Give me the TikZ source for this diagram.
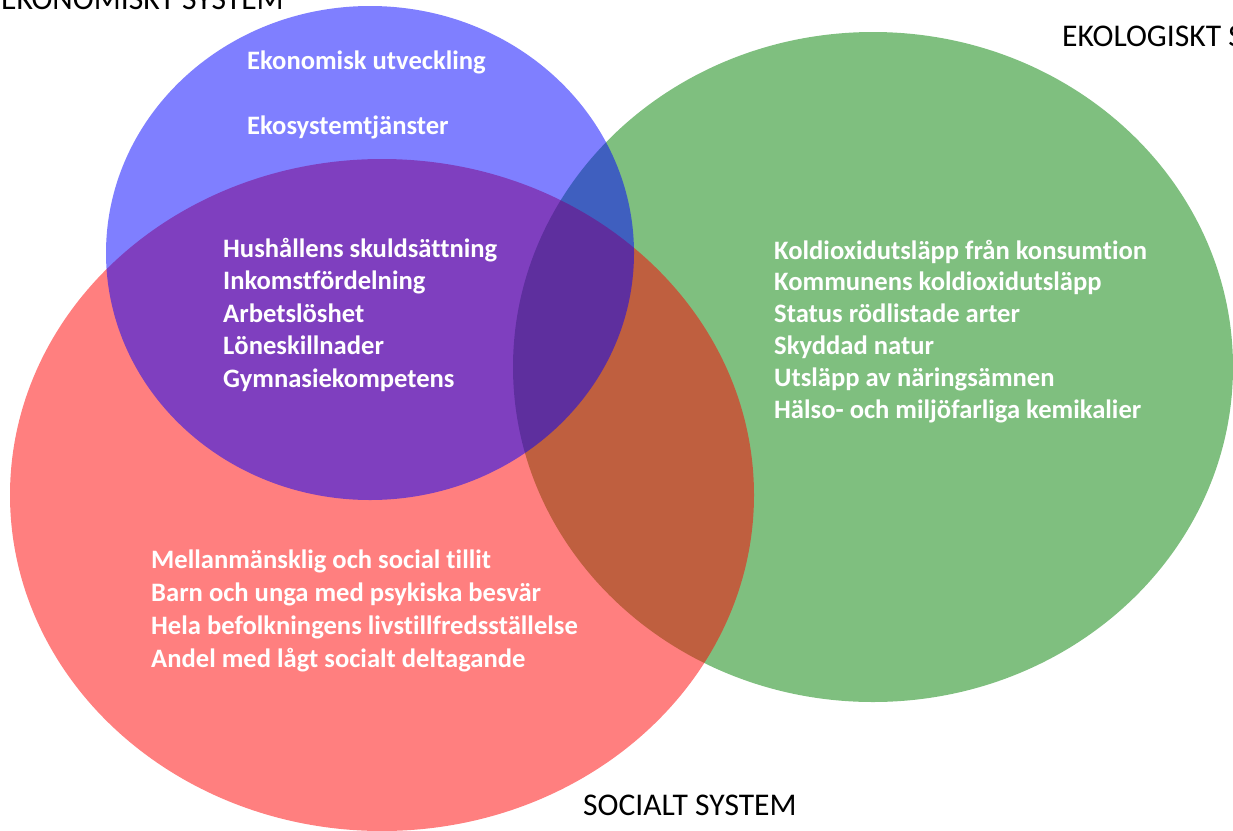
\documentclass[tikz,border=0pt]{standalone}
\usepackage{fontspec}
\setmainfont[Ligatures=NoCommon]{Carlito}
\definecolor{ekoblue}{RGB}{0,0,255}
\definecolor{sored}{RGB}{255,0,0}
\definecolor{ekogreen}{RGB}{0,128,0}
\tikzset{
  setfill/.style={fill=#1, fill opacity=0.5, draw=none},
  item/.style={anchor=base west, inner sep=0pt, text=white, font=\fontsize{26.6}{30}\selectfont\bfseries},
  syslabel/.style={anchor=base west, inner sep=0pt, text=black, font=\fontsize{31.6}{36}\selectfont}
}
\begin{document}
\begin{tikzpicture}[x=1pt,y=-1pt]
\useasboundingbox (0,0) rectangle (1233,830);
\clip (0,0) rectangle (1233,830);
% sets
\path[setfill=ekogreen] (873,367) ellipse [x radius=360, y radius=335];
\path[setfill=sored] (382,495) ellipse [x radius=372, y radius=336];
\path[setfill=ekoblue] (370,253) ellipse [x radius=264, y radius=247];
% labels
\node[syslabel] (lekon) at (1,9) {EKONOMISKT SYSTEM};
\node[syslabel] (lekol) at (1062,46) {EKOLOGISKT SYSTEM};
\node[syslabel] (lsoc) at (583,815) {SOCIALT SYSTEM};
% economic only
\node[item] (b1) at (247,69) {Ekonomisk utveckling};
\node[item] (b2) at (247,134) {Ekosystemtjänster};
% economic & social
\foreach \t [count=\i] in {Hushållens skuldsättning, Inkomstfördelning, Arbetslöshet, Löneskillnader, Gymnasiekompetens}
  \node[item] (p\i) at (223,{257+32.5*(\i-1)}) {\t};
% ecological
\foreach \t [count=\i] in {Koldioxidutsläpp från konsumtion, Kommunens koldioxidutsläpp, Status rödlistade arter, Skyddad natur, Utsläpp av näringsämnen, Hälso- och miljöfarliga kemikalier}
  \node[item] (g\i) at (774,{259+31.8*(\i-1)}) {\t};
% social
\foreach \t [count=\i] in {Mellanmänsklig och social tillit, Barn och unga med psykiska besvär, Hela befolkningens livstillfredsställelse, Andel med lågt socialt deltagande}
  \node[item] (r\i) at (151,{568+33.3*(\i-1)}) {\t};
\end{tikzpicture}
\end{document}
